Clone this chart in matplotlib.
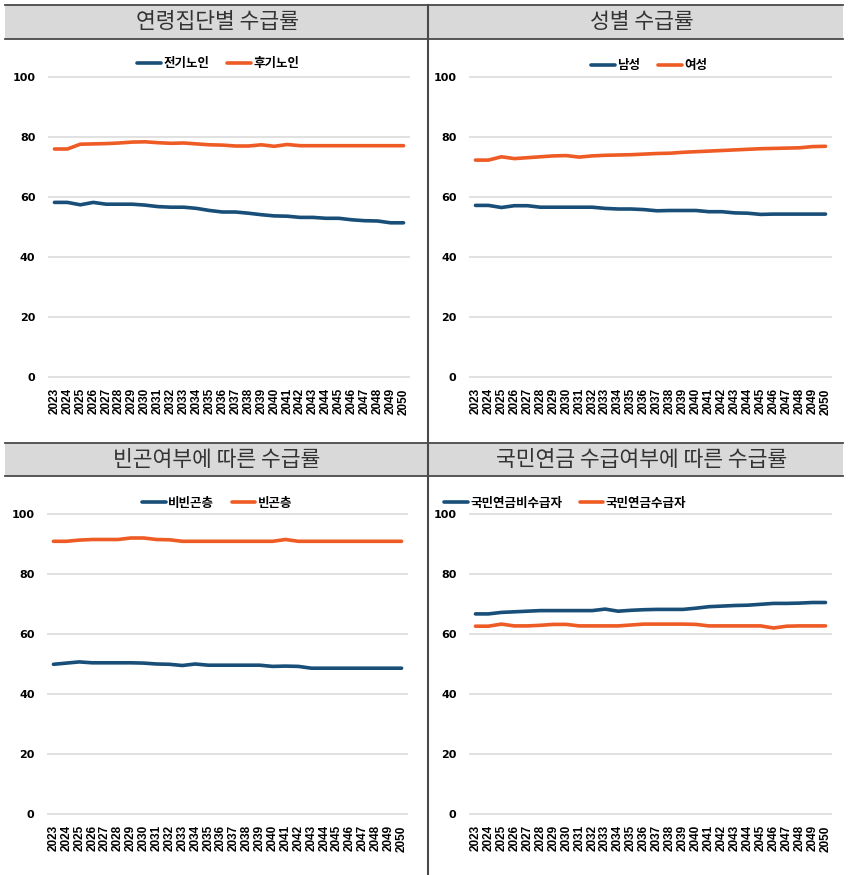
import matplotlib
matplotlib.use("Agg")
import matplotlib.pyplot as plt
from matplotlib.patches import Rectangle

# ---- data -------------------------------------------------------------
years = list(range(2023, 2051))

age_titles = "연령집단별 수급률"
age_labels = ["전기노인", "후기노인"]
age_early = [58.2, 58.2, 57.4, 58.2, 57.6, 57.6, 57.6, 57.3, 56.8, 56.6,
             56.6, 56.2, 55.5, 55.0, 55.0, 54.6, 54.1, 53.7, 53.6, 53.2,
             53.2, 52.9, 52.9, 52.4, 52.1, 52.0, 51.4, 51.4]
age_late = [76.0, 76.0, 77.6, 77.7, 77.8, 78.0, 78.3, 78.4, 78.1, 77.9,
            78.0, 77.7, 77.4, 77.3, 77.0, 77.0, 77.4, 76.9, 77.5, 77.1,
            77.1, 77.1, 77.1, 77.1, 77.1, 77.1, 77.1, 77.1]

sex_title = "성별 수급률"
sex_labels = ["남성", "여성"]
sex_male = [57.2, 57.2, 56.5, 57.1, 57.1, 56.6, 56.6, 56.6, 56.6, 56.6,
            56.2, 56.0, 56.0, 55.8, 55.4, 55.5, 55.5, 55.5, 55.1, 55.1,
            54.7, 54.6, 54.2, 54.3, 54.3, 54.3, 54.3, 54.3]
sex_female = [72.3, 72.3, 73.4, 72.8, 73.1, 73.4, 73.7, 73.8, 73.3, 73.7,
              73.9, 74.0, 74.1, 74.3, 74.5, 74.6, 74.9, 75.1, 75.3, 75.5,
              75.7, 75.9, 76.1, 76.2, 76.3, 76.4, 76.8, 76.9]

pov_title = "빈곤여부에 따른 수급률"
pov_labels = ["비빈곤층", "빈곤층"]
pov_nonpoor = [49.9, 50.3, 50.7, 50.4, 50.4, 50.4, 50.4, 50.3, 50.0, 49.9,
               49.5, 50.0, 49.6, 49.6, 49.6, 49.6, 49.6, 49.2, 49.3, 49.2,
               48.6, 48.6, 48.6, 48.6, 48.6, 48.6, 48.6, 48.6]
pov_poor = [90.9, 90.9, 91.3, 91.5, 91.5, 91.5, 92.0, 92.0, 91.5, 91.4,
            90.9, 90.9, 90.9, 90.9, 90.9, 90.9, 90.9, 90.9, 91.5, 90.9,
            90.9, 90.9, 90.9, 90.9, 90.9, 90.9, 90.9, 90.9]

nps_title = "국민연금 수급여부에 따른 수급률"
nps_labels = ["국민연금비수급자", "국민연금수급자"]
nps_nonrecip = [66.7, 66.7, 67.2, 67.4, 67.6, 67.8, 67.8, 67.8, 67.8, 67.8,
                68.3, 67.6, 67.9, 68.1, 68.2, 68.2, 68.2, 68.6, 69.1, 69.3,
                69.5, 69.6, 69.9, 70.2, 70.2, 70.3, 70.5, 70.5]
nps_recip = [62.6, 62.6, 63.3, 62.7, 62.7, 62.9, 63.2, 63.2, 62.7, 62.7,
             62.7, 62.7, 63.0, 63.3, 63.3, 63.3, 63.3, 63.2, 62.7, 62.7,
             62.7, 62.7, 62.7, 62.0, 62.6, 62.7, 62.7, 62.7]

y_ticks = [0, 20, 40, 60, 80, 100]

# ---- style ------------------------------------------------------------
W, H = 848, 875
BLUE = "#184E77"
ORANGE = "#EF5B25"
GRID = "#d9d9d9"
HEADER = "#d9d9d9"
EDGE = "#4a4a4a"
KR = ["Noto Sans CJK KR", "DejaVu Sans"]

fig = plt.figure(figsize=(W / 100, H / 100), dpi=100)


def rect(x0, y0, x1, y1):
    return [x0 / W, 1 - y1 / H, (x1 - x0) / W, (y1 - y0) / H]


# frame: header bars, separators
bg = fig.add_axes([0, 0, 1, 1])
bg.set_xlim(0, W)
bg.set_ylim(H, 0)
bg.axis("off")
for (y0, y1) in [(5, 39), (443, 476)]:
    bg.add_patch(Rectangle((5, y0), 838, y1 - y0, facecolor=HEADER,
                           edgecolor="none"))
    bg.plot([5, 843], [y0, y0], color=EDGE, lw=1.3)
    bg.plot([5, 843], [y1, y1], color=EDGE, lw=1.3)
bg.plot([428, 428], [5, H], color=EDGE, lw=1.5)

titles = [(age_titles, 217, 22), (sex_title, 642, 22),
          (pov_title, 217, 460), (nps_title, 642, 460)]
for t, x, y in titles:
    bg.text(x, y, t, ha="center", va="center", fontsize=15.5,
            family=KR, color="#333333")

panels = [
    (rect(48, 75.5, 410, 378.5), age_early, age_late, age_labels, (218, 64)),
    (rect(469, 75.5, 832, 378.5), sex_male, sex_female, sex_labels, (649, 66)),
    (rect(47, 512.5, 408, 815.5), pov_nonpoor, pov_poor, pov_labels, (217, 503)),
    (rect(469, 512.5, 832, 815.5), nps_nonrecip, nps_recip, nps_labels, (565, 503)),
]

xs = list(range(len(years)))
for pos, s1, s2, labels, (lx, ly) in panels:
    ax = fig.add_axes(pos)
    ax.set_xlim(-0.5, len(years) - 0.5)
    ax.set_ylim(-0.5, 100.5)
    for s in ax.spines.values():
        s.set_visible(False)
    ax.set_yticks(y_ticks)
    ax.set_yticklabels([str(v) for v in y_ticks],
                       family=["Liberation Sans Narrow", "DejaVu Sans"],
                       fontweight="bold", fontsize=8)
    ax.set_xticks(xs)
    ax.set_xticklabels([str(y) for y in years], rotation=90,
                       family="Liberation Sans", fontweight="bold",
                       fontsize=8.5, va="top")
    ax.tick_params(axis="both", length=0)
    ax.tick_params(axis="y", pad=9)
    ax.tick_params(axis="x", pad=7)
    ax.grid(axis="y", color=GRID, lw=1.1)
    ax.set_axisbelow(True)
    l1, = ax.plot(xs, s1, color=BLUE, lw=2.6, solid_capstyle="round")
    l2, = ax.plot(xs, s2, color=ORANGE, lw=2.6, solid_capstyle="round")
    ax.legend([l1, l2], labels, loc="center", ncol=2, frameon=False,
              bbox_to_anchor=(lx / W, 1 - ly / H),
              bbox_transform=fig.transFigure,
              prop={"family": KR, "weight": "bold", "size": 9},
              handlelength=1.9, handletextpad=0.2, columnspacing=1.4,
              borderpad=0, borderaxespad=0)

fig.savefig("out.png", dpi=100)
